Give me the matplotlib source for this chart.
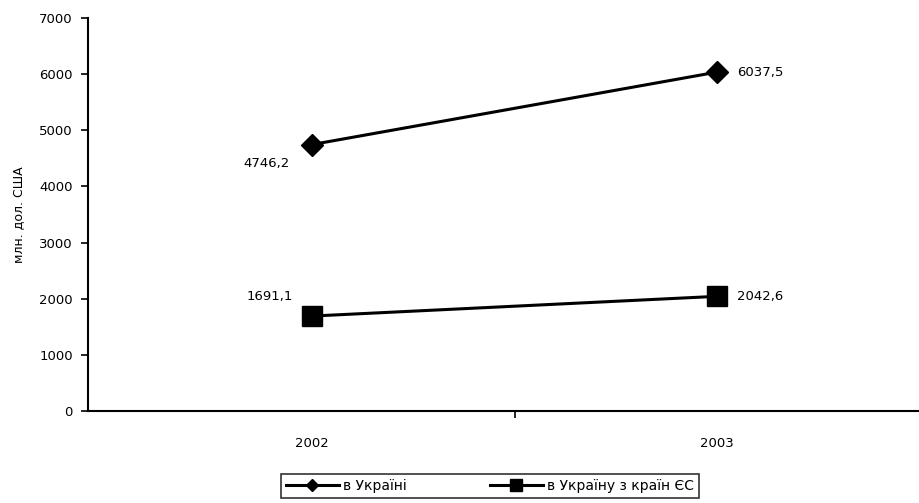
import matplotlib
matplotlib.use("Agg")
import matplotlib.pyplot as plt

years = ["2002", "2003"]
ukraine = [4746.2, 6037.5]
eu_to_ukraine = [1691.1, 2042.6]
series_names = ["в Україні", "в Україну з країн ЄС"]
ukraine_labels = ["4746,2", "6037,5"]
eu_labels = ["1691,1", "2042,6"]
yticks = [0, 1000, 2000, 3000, 4000, 5000, 6000, 7000]
ylabel = "млн. дол. США"

plt.rcParams['font.family'] = ['DejaVu Sans']

W, H = 920, 503
fig = plt.figure(figsize=(W / 100, H / 100), dpi=100)
ax = fig.add_axes([88 / W, 1 - 411 / H, (W - 88) / W, (411 - 18) / H])

x = list(range(len(years)))
ax.plot(x, ukraine, color='black', lw=2.2, marker='D', markersize=11,
        label=series_names[0])
ax.plot(x, eu_to_ukraine, color='black', lw=2.2, marker='s', markersize=14,
        label=series_names[1])

fs = 9.5
# data labels
ax.annotate(ukraine_labels[0], (x[0], ukraine[0]), xytext=(-16, -14),
            textcoords='offset points', ha='right', va='center', fontsize=fs)
ax.annotate(ukraine_labels[1], (x[1], ukraine[1]), xytext=(14, 0),
            textcoords='offset points', ha='left', va='center', fontsize=fs)
ax.annotate(eu_labels[0], (x[0], eu_to_ukraine[0]), xytext=(-14, 14),
            textcoords='offset points', ha='right', va='center', fontsize=fs)
ax.annotate(eu_labels[1], (x[1], eu_to_ukraine[1]), xytext=(14, 0),
            textcoords='offset points', ha='left', va='center', fontsize=fs)

ax.set_ylim(0, 7000)
ax.set_yticks(yticks)
ax.set_yticklabels([str(v) for v in yticks], fontsize=fs)
ax.set_xlim(-0.553, 1.5)
ax.set_xticks([0.5])
ax.set_xticklabels([""])
for xi, lab in zip(x, years):
    ax.text(xi, -0.066, lab, transform=ax.get_xaxis_transform(),
            ha='center', va='top', fontsize=fs)

ax.tick_params(axis='both', direction='out', length=5, width=1.2, colors='black')
ax.tick_params(axis='y', pad=6)
for s in ['top', 'right']:
    ax.spines[s].set_visible(False)
for s in ['left', 'bottom']:
    ax.spines[s].set_linewidth(1.5)
ax.set_ylabel(ylabel, fontsize=9, labelpad=8)
ax.yaxis.set_label_coords(-0.075, 0.5)

leg = fig.legend(loc='center', bbox_to_anchor=(490 / W, 1 - 486 / H),
                 ncol=2, frameon=True, fancybox=False, edgecolor='black',
                 fontsize=10, handlelength=3.8, handletextpad=0.3,
                 columnspacing=6.0, borderpad=0.35, markerscale=0.6)
leg.get_frame().set_linewidth(1.2)

fig.savefig("out.png", dpi=100)
